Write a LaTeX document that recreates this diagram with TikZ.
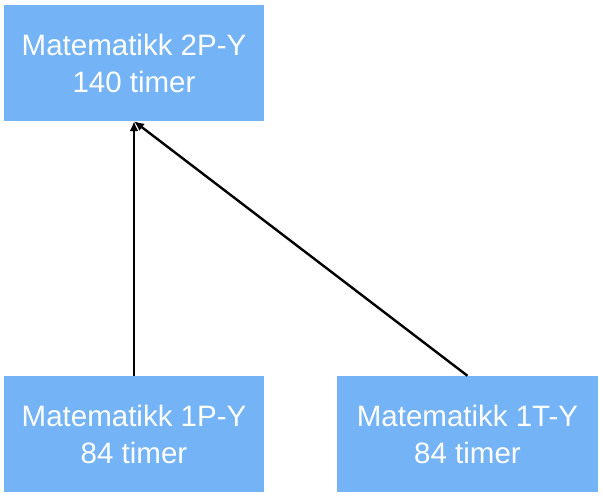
\documentclass[tikz,border=0pt]{standalone}
\usepackage{fontspec}
\setmainfont{Liberation Sans}
\usetikzlibrary{arrows.meta}
\definecolor{boxblue}{HTML}{74B3F5}
\begin{document}
\begin{tikzpicture}[x=1pt,y=-1pt,
  course/.style={fill=boxblue, draw=none, minimum width=260pt, minimum height=116pt,
    inner sep=0pt, text=white, align=center,
    font=\fontsize{29.5}{37}\selectfont},
  link/.style={line width=2.4pt, draw=black, -{Latex[length=10pt,width=9pt]}}]
\useasboundingbox (0,0) rectangle (603,498);
\node[course] (top) at (134,63) {Matematikk 2P-Y\\140 timer};
\node[course] (bl) at (134,434) {Matematikk 1P-Y\\84 timer};
\node[course, minimum width=261pt] (br) at (467.5,434) {Matematikk 1T-Y\\84 timer};
\draw[link] (bl.north) -- (top.south);
\draw[link] (br.north) -- (top.south);
\end{tikzpicture}
\end{document}
